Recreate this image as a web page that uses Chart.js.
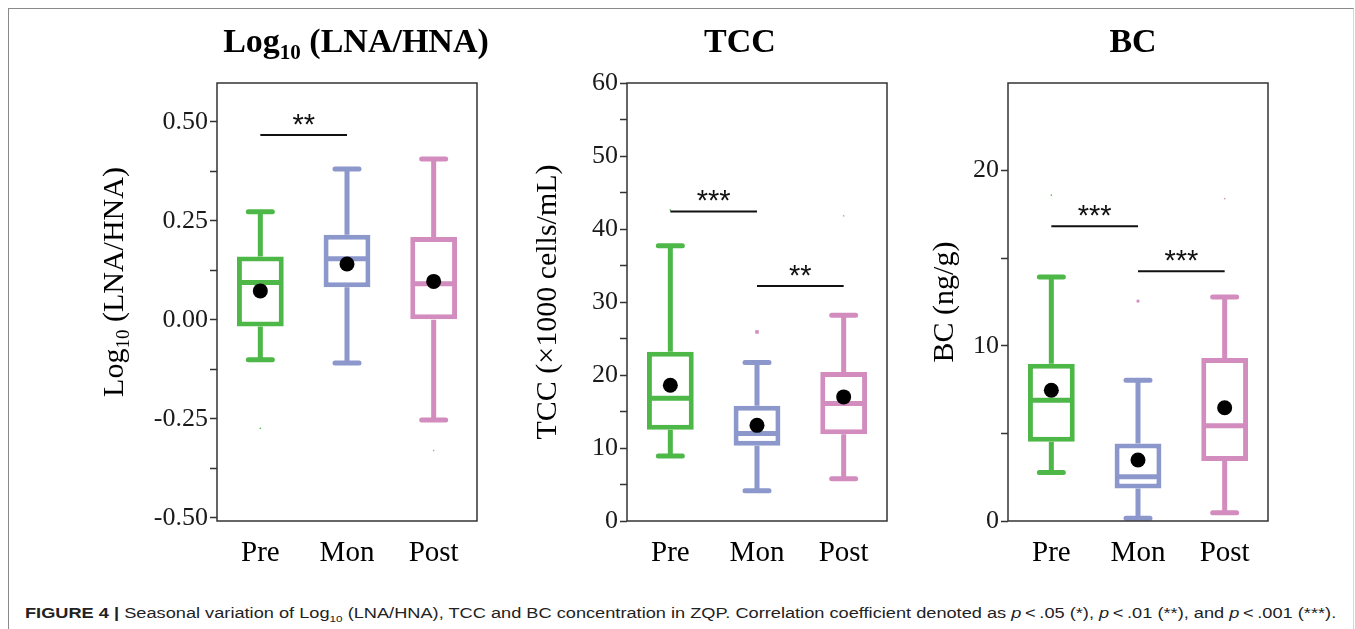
<!DOCTYPE html>
<html>
<head>
<meta charset="utf-8">
<script src="https://cdn.jsdelivr.net/npm/chart.js@4"></script>
<style>
  body { margin: 0; width: 1355px; height: 629px; background: #fff; position: relative; overflow: hidden; }
  .frame { position: absolute; left: 8px; top: 8px; width: 1344px; height: 660px; border: 1.5px solid #8a8a8a; border-right-color: #d8d8d8; }
  canvas { position: absolute; top: 0; }
  #c1 { left: 60px; } #c2 { left: 520px; } #c3 { left: 910px; }
  .cap { position: absolute; left: 25px; top: 603px; font: 14px "Liberation Sans", Arial, sans-serif; color: #222; white-space: nowrap; line-height: 20px; transform: scaleX(1.3); transform-origin: 0 0; }
  .cap b { font-weight: bold; }
</style>
</head>
<body>
<div class="frame"></div>
<canvas id="c1" width="440" height="580"></canvas>
<canvas id="c2" width="380" height="580"></canvas>
<canvas id="c3" width="380" height="580"></canvas>
<div class="cap"><b>FIGURE 4</b> <b>|</b>&nbsp;Seasonal variation of Log<sub style="font-size:9px">10</sub> (LNA/HNA), TCC and BC concentration in ZQP. Correlation coefficient denoted as <i>p</i>&thinsp;&lt;&thinsp;.05 (*), <i>p</i>&thinsp;&lt;&thinsp;.01 (**), and <i>p</i>&thinsp;&lt;&thinsp;.001 (***).</div>
<script>
const categories = ['Pre', 'Mon', 'Post'];

// Log10 (LNA/HNA)
const lnaMin  = [-0.101, -0.109, -0.253];
const lnaQ1   = [-0.017, 0.082, 0.0];
const lnaMed  = [0.094, 0.154, 0.091];
const lnaQ3   = [0.160, 0.215, 0.209];
const lnaMax  = [0.273, 0.381, 0.406];
const lnaMean = [0.073, 0.141, 0.097];
const lnaOut  = [-0.274, null, -0.33];
const lnaTicks = [-0.5, -0.375, -0.25, -0.125, 0, 0.125, 0.25, 0.375, 0.5];
const lnaTickLabels = ['-0.50', '', '-0.25', '', '0.00', '', '0.25', '', '0.50'];
const lnaSig = [[0, 1, 0.467, '**']];

// TCC
const tccMin  = [8.9, 4.15, 5.8];
const tccQ1   = [12.5, 10.3, 11.9];
const tccMed  = [16.8, 12.0, 16.1];
const tccQ3   = [23.2, 15.8, 20.4];
const tccMax  = [37.7, 21.7, 28.2];
const tccMean = [18.6, 13.1, 17.0];
const tccOut  = [42.6, 25.9, 41.8];
const tccTicks = [0, 5, 10, 15, 20, 25, 30, 35, 40, 45, 50, 55, 60];
const tccTickLabels = ['0', '', '10', '', '20', '', '30', '', '40', '', '50', '', '60'];
const tccSig = [[0, 1, 42.4, '***'], [1, 2, 32.2, '**']];

// BC
const bcMin  = [2.77, 0.15, 0.47];
const bcQ1   = [4.52, 1.86, 3.42];
const bcMed  = [6.89, 2.53, 5.43];
const bcQ3   = [8.98, 4.43, 9.31];
const bcMax  = [13.92, 8.03, 12.78];
const bcMean = [7.46, 3.48, 6.46];
const bcOut  = [18.6, 12.55, 18.4];
const bcTicks = [0, 5, 10, 15, 20];
const bcTickLabels = ['0', '', '10', '', '20'];
const bcSig = [[0, 1, 16.83, '***'], [1, 2, 14.26, '***']];

const COLORS = ['#4db848', '#8c98cc', '#d38cbe'];
const OUT_COLORS = ['#4db848', '#d38cbe', '#d38cbe'];
const SERIF = '"Liberation Serif", "Times New Roman", serif';
const LW = 5;

// 每个画布的箱线数据
const boxData = {};

// 带下标的文字
function richText(ctx, parts, size, bold, cx, cy, rot) {
    const f = sub => `${bold ? 'bold ' : ''}${sub ? Math.round(size * 0.63) : size}px ${SERIF}`;
    ctx.save();
    ctx.translate(cx, cy);
    ctx.rotate(rot);
    let w = 0;
    parts.forEach(p => { ctx.font = f(p[1]); w += ctx.measureText(p[0]).width; });
    let xx = -w / 2;
    ctx.fillStyle = '#000';
    ctx.textBaseline = 'alphabetic';
    parts.forEach(p => {
        ctx.font = f(p[1]);
        ctx.fillText(p[0], xx, p[1] ? size * 0.2 : 0);
        xx += ctx.measureText(p[0]).width;
    });
    ctx.restore();
}

const boxPlugin = {
    id: 'boxplot',
    beforeDatasetsDraw(chart) {
        const { ctx, scales: { x, y } } = chart;
        const s = boxData[chart.canvas.id];
        ctx.save();
        ctx.lineWidth = LW;
        s.lo.forEach((lo, i) => {
            const cx = x.getPixelForValue(i);
            ctx.strokeStyle = COLORS[i];
            ctx.lineCap = 'butt';
            ctx.beginPath();
            ctx.moveTo(cx, y.getPixelForValue(s.hi[i]));
            ctx.lineTo(cx, y.getPixelForValue(s.q3[i]));
            ctx.moveTo(cx, y.getPixelForValue(s.q1[i]));
            ctx.lineTo(cx, y.getPixelForValue(lo));
            ctx.stroke();
            ctx.lineCap = 'round';
            ctx.beginPath();
            [lo, s.hi[i]].forEach(v => {
                const py = y.getPixelForValue(v);
                ctx.moveTo(cx - 12, py);
                ctx.lineTo(cx + 12, py);
            });
            ctx.stroke();
        });
        ctx.restore();
    },
    afterDatasetDraw(chart, args) {
        if (args.index !== 0) return;
        const { ctx, scales: { y } } = chart;
        const s = boxData[chart.canvas.id];
        ctx.save();
        ctx.lineWidth = LW;
        chart.getDatasetMeta(0).data.forEach((bar, i) => {
            const p = bar.getProps(['x', 'width'], true);
            const py = y.getPixelForValue(s.med[i]);
            ctx.strokeStyle = COLORS[i];
            ctx.beginPath();
            ctx.moveTo(p.x - p.width / 2 + 2, py);
            ctx.lineTo(p.x + p.width / 2 - 2, py);
            ctx.stroke();
        });
        ctx.restore();
    },
    afterDraw(chart) {
        const { ctx, chartArea: a, scales: { x, y } } = chart;
        const s = boxData[chart.canvas.id];
        ctx.save();
        // 边框
        ctx.strokeStyle = '#333';
        ctx.lineWidth = 1.5;
        ctx.strokeRect(a.left, a.top, a.right - a.left, a.bottom - a.top);
        // 显著性
        ctx.lineWidth = 2;
        ctx.strokeStyle = '#111';
        ctx.fillStyle = '#111';
        ctx.font = `29px "Liberation Sans", Arial, sans-serif`;
        ctx.textAlign = 'center';
        s.sig.forEach(([i0, i1, v, lab]) => {
            const x0 = x.getPixelForValue(i0), x1 = x.getPixelForValue(i1), py = y.getPixelForValue(v);
            ctx.beginPath();
            ctx.moveTo(x0, py);
            ctx.lineTo(x1, py);
            ctx.stroke();
            ctx.fillText(lab, (x0 + x1) / 2, py - 1);
        });
        ctx.restore();
        richText(ctx, s.title, 34, true, s.titleX, 52, 0);
        if (s.yTitle) richText(ctx, s.yTitle, 30, false, s.yTitleX, 282, -Math.PI / 2);
    }
};

function makeChart(id, d) {
    return new Chart(document.getElementById(id), {
        type: 'bar',
        data: {
            labels: categories,
            datasets: [
                {
                    data: d.q1.map((v, i) => [v, d.q3[i]]),
                    backgroundColor: '#fff', borderColor: COLORS, borderWidth: LW, borderSkipped: false,
                    barPercentage: 0.54, categoryPercentage: 1, order: 3
                },
                {
                    type: 'line', data: d.mean, showLine: false, pointRadius: 7.5,
                    pointBackgroundColor: '#000', pointBorderWidth: 0, order: 1
                },
                {
                    type: 'line', data: d.out, showLine: false, pointRadius: d.outR,
                    pointBackgroundColor: OUT_COLORS, pointBorderWidth: 0, pointStyle: 'rect', order: 2
                }
            ]
        },
        options: {
            responsive: false, animation: false, devicePixelRatio: 1,
            layout: { padding: { top: 83, bottom: 14, left: 0, right: d.padR } },
            plugins: { legend: { display: false }, tooltip: { enabled: false } },
            scales: {
                x: {
                    grid: { display: false, drawTicks: false }, border: { display: false },
                    ticks: { color: '#000', padding: 15, font: { family: SERIF, size: 29 } },
                    afterFit: s => { s.height = 45; }
                },
                y: {
                    min: d.min, max: d.max,
                    afterBuildTicks: s => { s.ticks = d.ticks.map(v => ({ value: v })); },
                    grid: { drawOnChartArea: false, drawTicks: true, tickLength: 7, tickColor: '#333', tickWidth: 1.5 },
                    border: { display: false },
                    ticks: {
                        color: '#1a1a1a', padding: 2, font: { family: SERIF, size: 26 },
                        callback: (v, i) => d.labels[i]
                    },
                    title: d.yTitleText ? {
                        display: true, text: d.yTitleText, color: '#000',
                        font: { family: SERIF, size: 30 }, padding: { top: d.yTitlePad, bottom: 0 }
                    } : { display: false },
                    afterFit: s => { s.width = d.yWidth; }
                }
            }
        },
        plugins: [boxPlugin]
    });
}

const panels = [
    ['c1', {
        lo: lnaMin, q1: lnaQ1, med: lnaMed, q3: lnaQ3, hi: lnaMax, mean: lnaMean, out: lnaOut, outR: [1, 1, 1],
        min: -0.508, max: 0.598, ticks: lnaTicks, labels: lnaTickLabels, sig: lnaSig,
        padR: 23, yWidth: 157, titleX: 296,
        title: [['Log', false], ['10', true], [' (LNA/HNA)', false]],
        yTitle: [['Log', false], ['10', true], [' (LNA/HNA)', false]], yTitleX: 63
    }],
    ['c2', {
        lo: tccMin, q1: tccQ1, med: tccMed, q3: tccQ3, hi: tccMax, mean: tccMean, out: tccOut, outR: [1, 2.5, 1],
        min: 0, max: 60, ticks: tccTicks, labels: tccTickLabels, sig: tccSig,
        padR: 13, yWidth: 107, titleX: 220, title: [['TCC', false]],
        yTitleText: 'TCC (×1000 cells/mL)', yTitlePad: 10
    }],
    ['c3', {
        lo: bcMin, q1: bcQ1, med: bcMed, q3: bcQ3, hi: bcMax, mean: bcMean, out: bcOut, outR: [1, 2, 1],
        min: 0, max: 25, ticks: bcTicks, labels: bcTickLabels, sig: bcSig,
        padR: 22, yWidth: 98, titleX: 223, title: [['BC', false]],
        yTitleText: 'BC (ng/g)', yTitlePad: 17
    }]
];

panels.forEach(([id, d]) => {
    boxData[id] = d;
    makeChart(id, d);
});
</script>
</body>
</html>
